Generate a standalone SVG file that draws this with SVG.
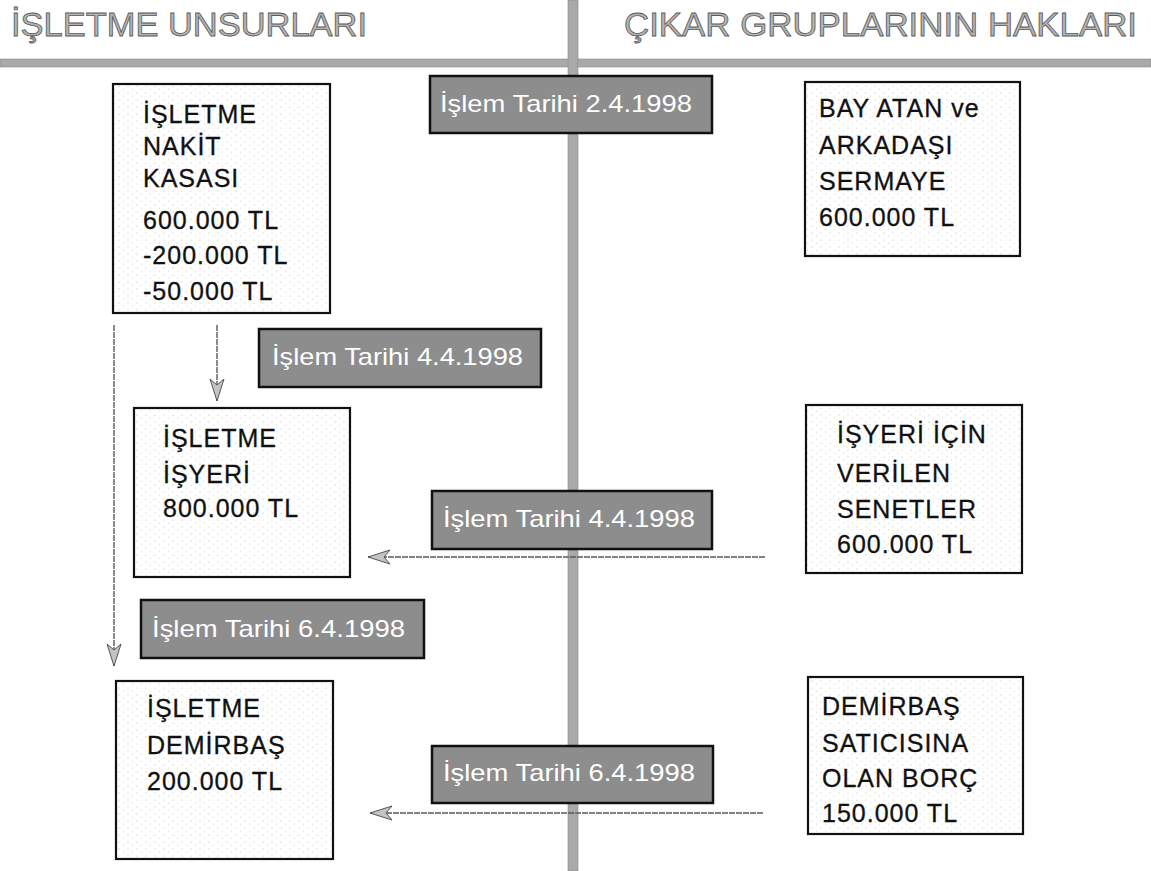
<svg xmlns="http://www.w3.org/2000/svg" width="1151" height="871" viewBox="0 0 1151 871">
<defs>
<pattern id="dots" width="9" height="7" patternUnits="userSpaceOnUse">
<rect width="9" height="7" fill="#ffffff"/>
<circle cx="2" cy="2" r="0.55" fill="#b8b8b8"/>
<circle cx="6.5" cy="5" r="0.5" fill="#c8c8c8"/>
</pattern>
<marker id="arr" viewBox="0 0 24 16" refX="23" refY="8" markerWidth="24" markerHeight="16" markerUnits="userSpaceOnUse" orient="auto">
<path d="M23,8 L1,1 L7,8 L1,15 Z" fill="#c4c4c4" stroke="#555" stroke-width="1"/>
</marker>
</defs>
<style>
.title{font-family:"Liberation Sans",Arial,sans-serif;font-size:33px;fill:#b4b4b4;stroke:#5a5a5a;stroke-width:0.8px}
.band{fill:#a9a9a9;stroke:#8a8a8a;stroke-width:0.6px}
.date rect{fill:#8d8d8d;stroke:#111;stroke-width:2.5px}
.date text{font-family:"Liberation Sans",Arial,sans-serif;font-size:24px;fill:#ffffff}
.node rect{fill:url(#dots);stroke:#111;stroke-width:2.2px}
.node text{font-family:"Liberation Sans",Arial,sans-serif;font-size:25px;letter-spacing:1px;fill:#111;stroke:#111;stroke-width:0.3px}
.conn line{stroke:#5a5a5a;stroke-width:1.4px;stroke-dasharray:6 1}
</style>
<rect width="1151" height="871" fill="#ffffff"/>

<g id="headers">
<text class="title" x="11" y="36" textLength="356" lengthAdjust="spacingAndGlyphs">İŞLETME UNSURLARI</text>
<text class="title" x="624" y="36" textLength="513" lengthAdjust="spacingAndGlyphs">ÇIKAR GRUPLARININ HAKLARI</text>
</g>

<g id="axes">
<rect class="band" x="0" y="59" width="1151" height="8"/>
<rect class="band" x="568" y="0" width="10" height="871"/>
</g>

<g id="connectors" class="conn">
<line x1="217" y1="325" x2="217" y2="401" marker-end="url(#arr)"/>
<line x1="114" y1="325" x2="114" y2="666" marker-end="url(#arr)"/>
<line x1="765" y1="557" x2="368" y2="557" marker-end="url(#arr)"/>
<line x1="763" y1="813" x2="370" y2="813" marker-end="url(#arr)"/>
</g>

<g id="date1" class="date">
<rect x="430" y="76" width="282" height="57"/>
<text x="440" y="112" textLength="252" lengthAdjust="spacingAndGlyphs">İşlem Tarihi 2.4.1998</text>
</g>
<g id="date2" class="date">
<rect x="259" y="329" width="282" height="58"/>
<text x="272" y="365" textLength="251" lengthAdjust="spacingAndGlyphs">İşlem Tarihi 4.4.1998</text>
</g>
<g id="date3" class="date">
<rect x="432" y="491" width="280" height="58"/>
<text x="443" y="527" textLength="252" lengthAdjust="spacingAndGlyphs">İşlem Tarihi 4.4.1998</text>
</g>
<g id="date4" class="date">
<rect x="141" y="600" width="283" height="58"/>
<text x="152" y="637" textLength="253" lengthAdjust="spacingAndGlyphs">İşlem Tarihi 6.4.1998</text>
</g>
<g id="date5" class="date">
<rect x="432" y="746" width="281" height="57"/>
<text x="443" y="781" textLength="252" lengthAdjust="spacingAndGlyphs">İşlem Tarihi 6.4.1998</text>
</g>

<g id="nakit" class="node">
<rect x="113" y="84" width="217" height="229"/>
<text x="143" y="123">İŞLETME</text>
<text x="143" y="155">NAKİT</text>
<text x="143" y="187">KASASI</text>
<text x="143" y="229">600.000 TL</text>
<text x="143" y="264">-200.000 TL</text>
<text x="143" y="300">-50.000 TL</text>
</g>
<g id="isyeri" class="node">
<rect x="134" y="408" width="216" height="169"/>
<text x="163" y="447">İŞLETME</text>
<text x="163" y="483">İŞYERİ</text>
<text x="163" y="517">800.000 TL</text>
</g>
<g id="demirbas" class="node">
<rect x="116" y="681" width="217" height="178"/>
<text x="147" y="717">İŞLETME</text>
<text x="147" y="754">DEMİRBAŞ</text>
<text x="147" y="790">200.000 TL</text>
</g>
<g id="sermaye" class="node">
<rect x="805" y="82" width="215" height="174"/>
<text x="819" y="117">BAY ATAN ve</text>
<text x="819" y="154">ARKADAŞI</text>
<text x="819" y="190">SERMAYE</text>
<text x="819" y="226">600.000 TL</text>
</g>
<g id="senetler" class="node">
<rect x="806" y="405" width="216" height="168"/>
<text x="837" y="443">İŞYERİ İÇİN</text>
<text x="837" y="482">VERİLEN</text>
<text x="837" y="518">SENETLER</text>
<text x="837" y="553">600.000 TL</text>
</g>
<g id="borc" class="node">
<rect x="808" y="677" width="215" height="157"/>
<text x="822" y="715">DEMİRBAŞ</text>
<text x="822" y="752">SATICISINA</text>
<text x="822" y="787">OLAN BORÇ</text>
<text x="822" y="822">150.000 TL</text>
</g>
</svg>
